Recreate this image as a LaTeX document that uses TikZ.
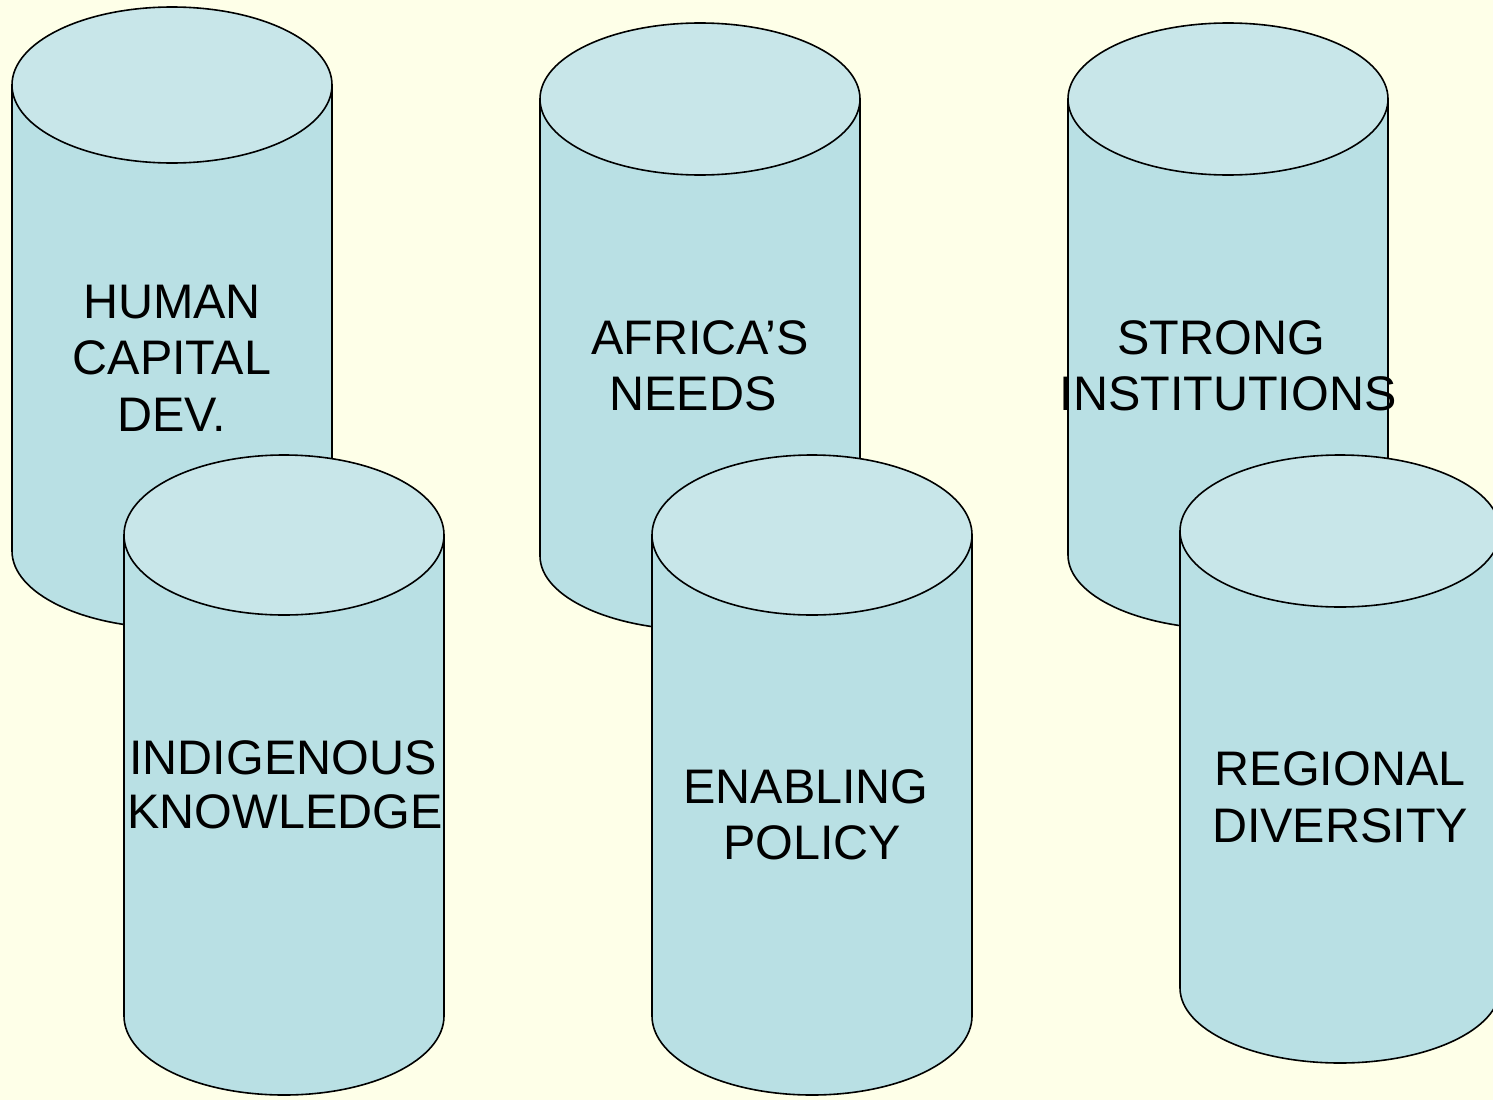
\documentclass[tikz,border=0pt]{standalone}
\usepackage{fontspec}
\setmainfont{Liberation Sans}
\definecolor{bgcol}{HTML}{FEFFE8}
\definecolor{bodycol}{HTML}{B9E0E4}
\definecolor{topcol}{HTML}{C8E6E9}
\newcommand{\cylshape}[6]{%
  % #1 cx, #2 rx, #3 top centre y, #4 top ry, #5 bottom centre y, #6 bottom ry
  \draw[cylline, fill=bodycol] ({#1-#2},#3) -- ({#1-#2},#5) arc[start angle=180, end angle=0, x radius=#2, y radius=#6] -- ({#1+#2},#3) -- cycle;
  \draw[cylline, fill=topcol] (#1,#3) ellipse[x radius=#2, y radius=#4];
}
\begin{document}
\begin{tikzpicture}[x=1pt, y=-1pt,
  cylline/.style={draw=black, line width=1.6pt, line join=round},
  lbl/.style={anchor=base, inner sep=0pt, outer sep=0pt, text=black, font=\fontsize{48.5}{57}\selectfont}]
\useasboundingbox (0,0) rectangle (1493,1100);
\fill[bgcol] (0,0) rectangle (1493,1100);
\clip (0,0) rectangle (1493,1100);
% back row
\cylshape{172}{160}{85}{78}{551}{77}
\cylshape{700}{160}{99}{76}{556}{74}
\cylshape{1228}{160}{99}{76}{555}{74}
% front row
\cylshape{284}{160}{535}{80}{1016}{79}
\cylshape{812}{160}{535}{80}{1016}{79}
\cylshape{1340}{160}{531}{76}{988}{75}
% labels
\node[lbl] (hc1) at (172,318) {HUMAN};
\node[lbl] (hc2) at (172,374) {CAPITAL};
\node[lbl] (hc3) at (172,431) {DEV.};
\node[lbl] (an1) at (700,354) {AFRICA’S};
\node[lbl] (an2) at (693,410) {NEEDS};
\node[lbl] (si1) at (1221,354) {STRONG};
\node[lbl] (si2) at (1228,410) {INSTITUTIONS};
\node[lbl] (ik1) at (283,774) {INDIGENOUS};
\node[lbl] (ik2) at (285,828) {KNOWLEDGE};
\node[lbl] (ep1) at (806,803) {ENABLING};
\node[lbl] (ep2) at (812,859) {POLICY};
\node[lbl] (rd1) at (1340,785) {REGIONAL};
\node[lbl] (rd2) at (1340,842) {DIVERSITY};
\end{tikzpicture}
\end{document}
